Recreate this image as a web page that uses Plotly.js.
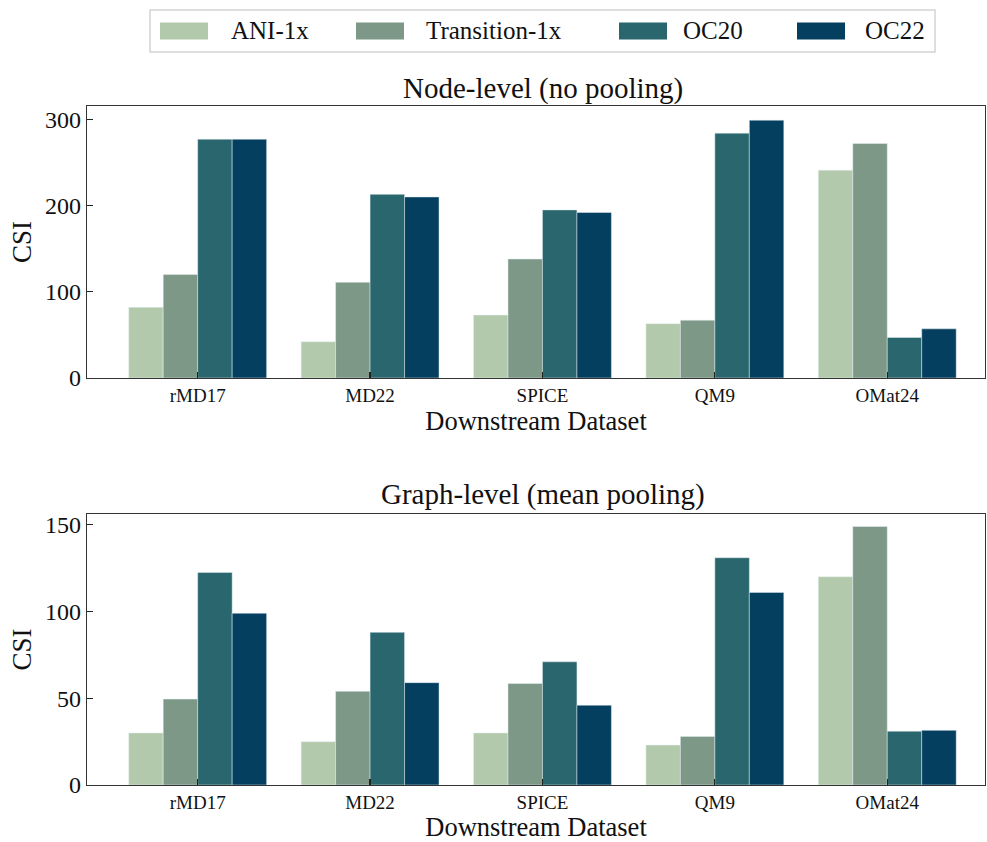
<!DOCTYPE html>
<html>
<head>
<meta charset="utf-8">
<script src="https://cdn.plot.ly/plotly-3.0.1.min.js"></script>
<style>body{margin:0;padding:0;background:#fff;} #chart{width:987px;height:842px;}</style>
</head>
<body>
<div id="chart"></div>
<script>
// ---- data ----
const categories = ["rMD17", "MD22", "SPICE", "QM9", "OMat24"];
const seriesNames = ["ANI-1x", "Transition-1x", "OC20", "OC22"];
const seriesColors = ["#b3c9ab", "#7d9886", "#29666d", "#053f60"];
// Node-level (no pooling)
const nodeANI = [82, 42, 73, 63, 241];
const nodeTransition = [120, 111, 138, 67, 272];
const nodeOC20 = [277, 213, 195, 284, 47];
const nodeOC22 = [277, 210, 192, 299, 57];
// Graph-level (mean pooling)
const graphANI = [30, 25, 30, 23, 120];
const graphTransition = [49.5, 54, 58.5, 28, 149];
const graphOC20 = [122.5, 88, 71, 131, 31];
const graphOC22 = [99, 59, 46, 111, 31.5];

const nodeSeries = [nodeANI, nodeTransition, nodeOC20, nodeOC22];
const graphSeries = [graphANI, graphTransition, graphOC20, graphOC22];

const FONT = "Liberation Serif, DejaVu Serif, serif";
const traces = [];
nodeSeries.forEach((vals, i) => {
  traces.push({type: "bar", x: categories, y: vals, name: seriesNames[i],
    marker: {color: seriesColors[i], line: {width: 0.6, color: "rgba(230,240,245,0.8)"}},
    xaxis: "x", yaxis: "y", showlegend: false, hoverinfo: "y"});
});
graphSeries.forEach((vals, i) => {
  traces.push({type: "bar", x: categories, y: vals, name: seriesNames[i],
    marker: {color: seriesColors[i], line: {width: 0.6, color: "rgba(230,240,245,0.8)"}},
    xaxis: "x2", yaxis: "y2", showlegend: false, hoverinfo: "y"});
});

const axisCommon = {
  showline: true, linecolor: "#333", linewidth: 1.2, mirror: true,
  ticks: "inside", ticklen: 6, tickcolor: "#222", tickwidth: 1.2,
  showgrid: false, zeroline: false,
};

// page-pixel -> paper coordinate helpers (plot area: l=87, r=2, t=106, b=57)
const W = 987, H = 842, ML = 87, MR = 2, MT = 106, MB = 57;
const PW = W - ML - MR, PH = H - MT - MB;
const px = v => (v - ML) / PW, py = v => (H - MB - v) / PH;

// custom legend built from series names/colors
const shapes = [{type: "rect", xref: "paper", yref: "paper",
  x0: px(150), x1: px(935), y0: py(10), y1: py(52),
  line: {color: "#d4d4d4", width: 1.5}, fillcolor: "#fff", layer: "above"}];
const patchX = [160, 356, 619, 797];
const textX = [229, 424, 681, 863];
const annotations = [];
seriesNames.forEach((n, i) => {
  shapes.push({type: "rect", xref: "paper", yref: "paper",
    x0: px(patchX[i]), x1: px(patchX[i] + 48), y0: py(22.5), y1: py(39.5),
    line: {width: 0}, fillcolor: seriesColors[i], layer: "above"});
  annotations.push({xref: "paper", yref: "paper", x: px(textX[i]), y: py(31),
    xanchor: "left", yanchor: "middle", text: n, showarrow: false,
    font: {family: FONT, size: 25, color: "#111"}});
});
annotations.push({xref: "paper", yref: "paper", x: px(543), y: py(88), xanchor: "center", yanchor: "middle",
  text: "Node-level (no pooling)", showarrow: false, font: {family: FONT, size: 29, color: "#111"}});
annotations.push({xref: "paper", yref: "paper", x: px(543), y: py(494), xanchor: "center", yanchor: "middle",
  text: "Graph-level (mean pooling)", showarrow: false, font: {family: FONT, size: 29, color: "#111"}});

const layout = {
  width: W, height: H,
  margin: {l: ML, r: MR, t: MT, b: MB},
  paper_bgcolor: "#fff", plot_bgcolor: "#fff",
  barmode: "group", bargap: 0.2, bargroupgap: 0,
  showlegend: false,
  font: {family: FONT, color: "#111"},
  xaxis: Object.assign({}, axisCommon, {domain: [0, 1], anchor: "y", range: [-0.642, 4.567],
    tickfont: {family: FONT, size: 19}, title: {text: "Downstream Dataset", font: {family: FONT, size: 26.5}, standoff: 5}}),
  yaxis: Object.assign({}, axisCommon, {domain: [0.5994, 1], anchor: "x", range: [0, 315.5],
    tickvals: [0, 100, 200, 300], tickfont: {family: FONT, size: 24},
    title: {text: "CSI", font: {family: FONT, size: 27}, standoff: 5}}),
  xaxis2: Object.assign({}, axisCommon, {domain: [0, 1], anchor: "y2", range: [-0.642, 4.567],
    tickfont: {family: FONT, size: 19}, title: {text: "Downstream Dataset", font: {family: FONT, size: 26.5}, standoff: 5}}),
  yaxis2: Object.assign({}, axisCommon, {domain: [0, 0.3991], anchor: "x2", range: [0, 156.2],
    tickvals: [0, 50, 100, 150], tickfont: {family: FONT, size: 24},
    title: {text: "CSI", font: {family: FONT, size: 27}, standoff: 5}}),
  shapes: shapes,
  annotations: annotations,
};

Plotly.newPlot("chart", traces, layout, {displayModeBar: false, staticPlot: true});
</script>
</body>
</html>
